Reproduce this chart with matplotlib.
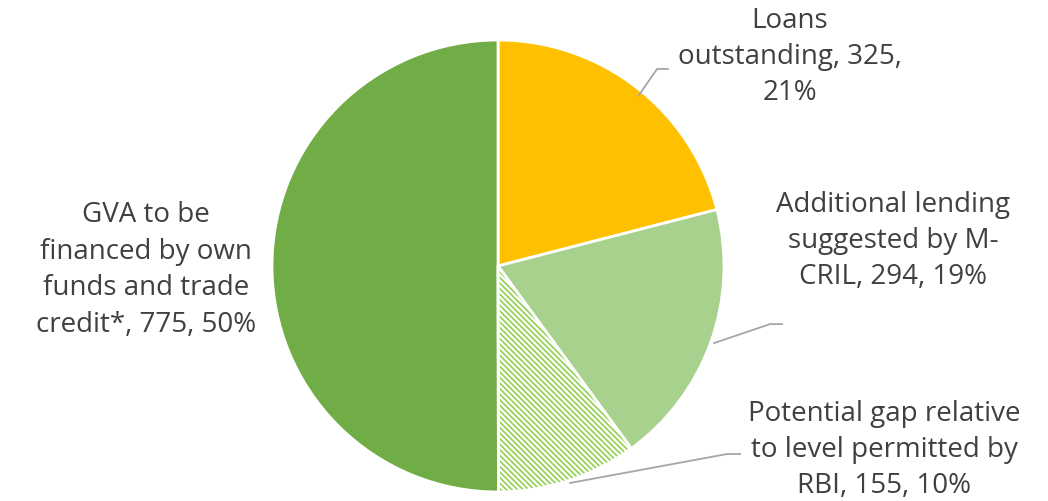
import matplotlib
matplotlib.use("Agg")
import matplotlib.pyplot as plt
from matplotlib.patches import Wedge
import numpy as np

labels = ["Loans\noutstanding, 325,\n21%",
          "Additional lending\nsuggested by M-\nCRIL, 294, 19%",
          "Potential gap relative\nto level permitted by\nRBI, 155, 10%",
          "GVA to be\nfinanced by own\nfunds and trade\ncredit*, 775, 50%"]
values = [325, 294, 155, 775]
colors = ["#FFC000", "#A9D18E", "#FFFFFF", "#70AD47"]
hatch_color = "#92D050"

# label positions (data coords, radius = 1)
label_pos = [(1.292, 0.925), (1.748, 0.111), (1.708, -0.814), (-1.558, -0.018)]
# leader lines: start, elbow, end (None for no leader)
leaders = [[(0.624, 0.757), (0.704, 0.872), (0.752, 0.872)],
           [(0.956, -0.341), (1.204, -0.257), (1.257, -0.257)],
           [(0.319, -0.960), (1.013, -0.832), (1.071, -0.832)],
           None]

plt.rcParams['hatch.linewidth'] = 1.2
plt.rcParams['font.family'] = ['Open Sans', 'DejaVu Sans']

W, H = 1048, 501
fig = plt.figure(figsize=(W / 100, H / 100), dpi=100)
cx, cy, r = 498, 501 - 266, 226
ax = fig.add_axes([(cx - r) / W, (cy - r) / H, 2 * r / W, 2 * r / H])

wedges, _ = ax.pie(values, colors=colors, startangle=90, counterclock=False,
                   radius=1, wedgeprops=dict(edgecolor="white", linewidth=2))
hw = wedges[2]
hw.set_edgecolor(hatch_color)
hw.set_hatch('\\' * 6)
hw.set_linewidth(0)
ax.add_patch(Wedge((0, 0), 1, hw.theta1, hw.theta2, facecolor='none',
                   edgecolor='white', linewidth=2))

for (tx, ty), lab in zip(label_pos, labels):
    ax.text(tx, ty, lab, ha='center', va='center', fontsize=20,
            color='#404040', linespacing=1.4)

for ld in leaders:
    if ld is None:
        continue
    xs, ys = zip(*ld)
    ax.plot(xs, ys, color='#A6A6A6', linewidth=1.3, clip_on=False)

ax.set_xlim(-1, 1)
ax.set_ylim(-1, 1)
ax.set_aspect('equal')
ax.axis('off')

fig.savefig("out.png", dpi=100)
